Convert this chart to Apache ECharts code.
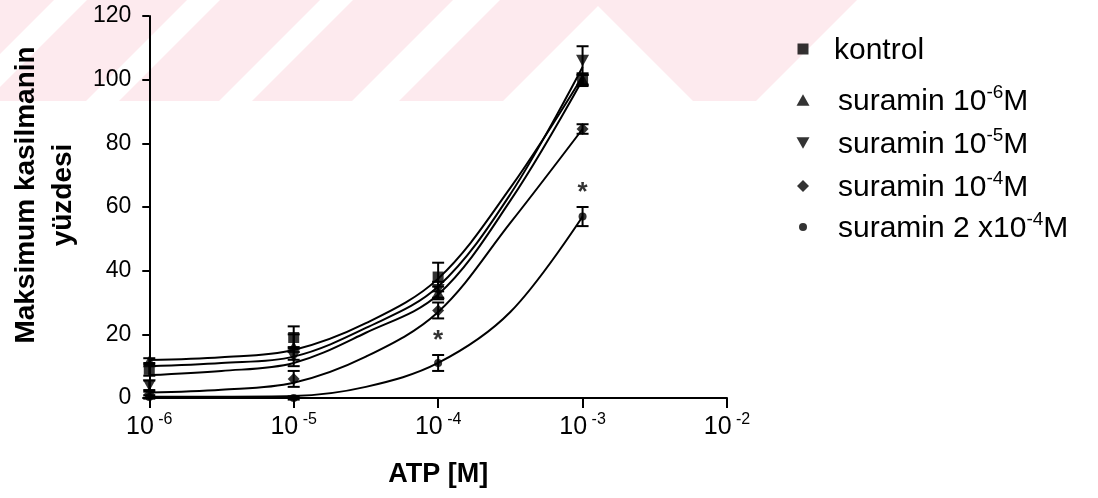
<!DOCTYPE html>
<html>
<head>
<meta charset="utf-8">
<script src="https://cdn.jsdelivr.net/npm/echarts@6/dist/echarts.min.js"></script>
<style>
  html, body { margin: 0; padding: 0; background: #fff; }
  #chart { width: 1098px; height: 498px; }
</style>
</head>
<body>
<div id="chart"></div>
<script>
// ATP concentrations (M) where responses were measured
const doses = [1e-6, 1e-5, 1e-4, 1e-3];

// Mean responses (% of maximal contraction) and SEM per group
const kontrolMean = [9, 19, 38, 100];
const kontrolErr = [2, 3.5, 4.5, 1.5];
const sur6Mean = [11.5, 16, 33, 100];
const sur6Err = [1, 4, 2, 2];
const sur5Mean = [4, 13, 34, 106];
const sur5Err = [1.5, 3, 2.5, 4.5];
const sur4Mean = [1, 6, 27.5, 84.5];
const sur4Err = [1, 2.5, 2.5, 1.5];
const sur24Mean = [0.3, 0, 11, 57];
const sur24Err = [0.5, 0.5, 2.5, 3];

// Fitted concentration-response curves, read at half-decade steps
const curveX = [1e-6, 3.16e-6, 1e-5, 3.16e-5, 1e-4, 3.16e-4, 1e-3];
const kontrolFit = [11.9, 12.8, 15.1, 23.5, 37.5, 66, 101];
const sur5Fit = [10, 11, 13, 22, 35, 64, 104];
const sur6Fit = [7.2, 8.5, 11, 20.5, 32.5, 62, 100];
const sur4Fit = [1.7, 2.6, 4.8, 13, 27, 55, 84.5];
const sur24Fit = [0.4, 0.4, 0.6, 3.5, 11, 27, 57];

// Significance marks (*) above the 2x10^-4 M suramin group
const starX = [1e-4, 1e-3];
const starY = [18, 64.5];

// Legend labels; "^xx" marks a two-character superscript
const legendNames = ['kontrol', 'suramin 10^-6M', 'suramin 10^-5M', 'suramin 10^-4M', 'suramin 2 x10^-4M'];
const yTicks = [0, 20, 40, 60, 80, 100, 120];

const SQUARE = 'path://M0,0H10V10H0Z';
const UP_TRI = 'path://M5,0L10,9L0,9Z';
const DOWN_TRI = 'path://M0,0L10,0L5,9Z';
const DIAMOND = 'path://M5,0L10,5L5,10L0,5Z';
const symbols = [SQUARE, UP_TRI, DOWN_TRI, DIAMOND, 'circle'];
const symbolSizes = [11, 13, 13, 12, 8];
const means = [kontrolMean, sur6Mean, sur5Mean, sur4Mean, sur24Mean];
const errs = [kontrolErr, sur6Err, sur5Err, sur4Err, sur24Err];
const fits = [kontrolFit, sur6Fit, sur5Fit, sur4Fit, sur24Fit];

function pairs(xs, ys) { return xs.map((x, i) => [x, ys[i]]); }

function errorBars(mean, err) {
  return {
    type: 'custom',
    silent: true,
    z: 3,
    encode: { x: 0, y: [1, 2] },
    data: doses.map((d, i) => [d, mean[i] - err[i], mean[i] + err[i]]),
    renderItem(params, api) {
      const lo = api.coord([api.value(0), api.value(1)]);
      const hi = api.coord([api.value(0), api.value(2)]);
      const w = 6;
      const st = { stroke: '#000', lineWidth: 2 };
      return {
        type: 'group',
        children: [
          { type: 'line', shape: { x1: hi[0], y1: hi[1], x2: lo[0], y2: lo[1] }, style: st },
          { type: 'line', shape: { x1: hi[0] - w, y1: hi[1], x2: hi[0] + w, y2: hi[1] }, style: st },
          { type: 'line', shape: { x1: lo[0] - w, y1: lo[1], x2: lo[0] + w, y2: lo[1] }, style: st }
        ]
      };
    }
  };
}

const series = [];
fits.forEach((f) => {
  series.push({
    type: 'line',
    data: pairs(curveX, f),
    smooth: 0.35,
    showSymbol: false,
    silent: true,
    z: 2,
    lineStyle: { color: '#000', width: 2 }
  });
});
means.forEach((m, i) => {
  series.push(errorBars(m, errs[i]));
  series.push({
    type: 'scatter',
    name: legendNames[i],
    data: pairs(doses, m),
    symbol: symbols[i],
    symbolSize: symbolSizes[i],
    symbolKeepAspect: true,
    itemStyle: { color: '#000' },
    z: 4
  });
});
series.push({
  type: 'scatter',
  data: pairs(starX, starY),
  symbolSize: 0,
  silent: true,
  label: {
    show: true, position: 'inside', formatter: '*',
    color: '#000', fontSize: 26, fontWeight: 'bold', fontFamily: 'Liberation Sans'
  }
});

function legendFormat(name) {
  const i = name.indexOf('^');
  if (i < 0) return '{g|}{a|' + name + '}';
  const rest = name.slice(i + 1);
  return '{g|}{a|' + name.slice(0, i) + '}{s|' + rest.slice(0, 2) + '}{a|' + rest.slice(2) + '}';
}

// Legend rows: icon centre (x, y) and where the label text begins
const iconX = 798;
const iconY = [48, 95, 138, 181, 222];
const textX = [829, 833, 833, 833, 833];
const legends = legendNames.map((n, i) => {
  const sz = symbolSizes[i];
  const left = iconX - sz / 2;
  return {
    data: [n],
    orient: 'vertical',
    left: left,
    top: iconY[i] - 17,
    itemWidth: sz,
    itemHeight: sz,
    selectedMode: false,
    formatter: legendFormat,
    textStyle: {
      color: '#000',
      fontFamily: 'Liberation Sans',
      rich: {
        g: { width: textX[i] - (left + sz + 5), lineHeight: 34 },
        a: { fontSize: 30, color: '#000', fontFamily: 'Liberation Sans', lineHeight: 34, verticalAlign: 'bottom' },
        s: { fontSize: 19, color: '#000', fontFamily: 'Liberation Sans', lineHeight: 34, verticalAlign: 'top' }
      }
    }
  };
});

// Pale striped watermark band across the top, with a peaked chevron
const wm = [];
[353, 220, 87, -46].forEach((L) => {
  wm.push([[L, 0], [L + 100, 0], [L - 1, 101], [L - 101, 101]]);
});
wm.push([[500, 0], [857, 0], [756, 101], [693, 101], [598, 6], [503, 101], [399, 101]]);

const option = {
  animation: false,
  backgroundColor: '#fff',
  graphic: wm.map((pts) => ({
    type: 'polygon', z: -10, silent: true,
    shape: { points: pts },
    style: { fill: '#fdeaee' }
  })),
  legend: legends,
  grid: { left: 148, right: 371, top: 16, bottom: 100, containLabel: false },
  xAxis: {
    type: 'log',
    logBase: 10,
    min: 1e-6,
    max: 1e-2,
    name: 'ATP [M]',
    nameLocation: 'middle',
    nameGap: 63,
    nameTextStyle: { fontSize: 27, fontWeight: 'bold', color: '#000', fontFamily: 'Liberation Sans' },
    axisLine: { lineStyle: { color: '#000', width: 2 } },
    axisTick: { show: true, length: 10, lineStyle: { color: '#000', width: 2 } },
    splitLine: { show: false },
    minorTick: { show: false },
    axisLabel: {
      margin: 14,
      formatter(v) {
        const e = Math.round(Math.log10(v));
        return '{b|10}{s| ' + e + '}';
      },
      rich: {
        b: { fontSize: 25, color: '#000', fontFamily: 'Liberation Sans', lineHeight: 28, verticalAlign: 'bottom' },
        s: { fontSize: 16, color: '#000', fontFamily: 'Liberation Sans', lineHeight: 28, verticalAlign: 'top' }
      }
    }
  },
  yAxis: {
    type: 'value',
    min: 0,
    max: 120,
    interval: 20,
    name: 'Maksimum kasilmanin\nyüzdesi',
    nameLocation: 'middle',
    nameRotate: 90,
    nameGap: 66,
    nameTextStyle: { fontSize: 28, fontWeight: 'bold', color: '#000', fontFamily: 'Liberation Sans', lineHeight: 37, align: 'center', padding: [0, 0, 0, 24] },
    axisLine: { show: true, lineStyle: { color: '#000', width: 2 } },
    axisTick: { show: true, length: 7, lineStyle: { color: '#000', width: 2 } },
    splitLine: { show: false },
    axisLabel: {
      margin: 18,
      fontSize: 23,
      color: '#000',
      fontFamily: 'Liberation Sans',
      formatter: (v) => (yTicks.includes(v) ? String(v) : '')
    }
  },
  series
};

const chart = echarts.init(document.getElementById('chart'), null, { renderer: 'canvas' });
chart.setOption(option);
</script>
</body>
</html>
